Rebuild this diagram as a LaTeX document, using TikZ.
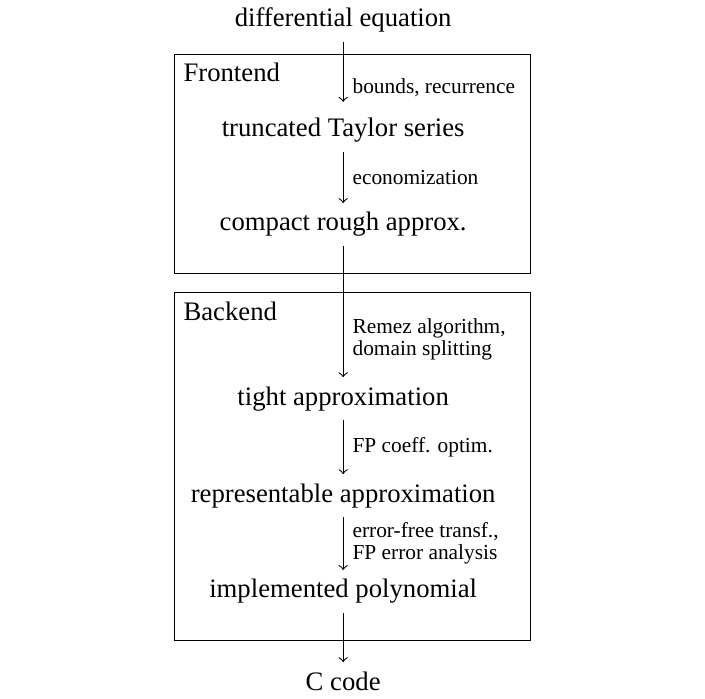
\documentclass[tikz,border=0pt]{standalone}
\usepackage{fontspec}
\setmainfont{Liberation Serif}

\begin{document}
\begin{tikzpicture}[
    x=1pt, y=1pt,
    stage/.style={anchor=base},
    group/.style={draw, anchor=north west, minimum width=133.3pt, inner sep=0pt},
    grouptitle/.style={anchor=north west},
    note/.style={anchor=west, align=left, font=\fontsize{8}{8.2}\selectfont},
    arrow/.style={->}
]
\useasboundingbox (0,0) rectangle (264.0,261.4);
\node[group, minimum height=82pt] (front) at (65.2,241.2) {};
\node[group, minimum height=130.3pt] (back) at (65.2,152.0) {};
\node[grouptitle] (fronttitle) at (front.north west) {Frontend};
\node[grouptitle] (backtitle) at (back.north west) {Backend};
\node[stage] (diffeq) at (128.5,251.3) {differential equation};
\node[stage] (taylor) at (128.5,210.1) {truncated Taylor series};
\node[stage] (rough) at (128.5,174.9) {compact rough approx.};
\node[stage] (tight) at (128.5,109.7) {tight approximation};
\node[stage] (repr) at (128.5,73.4) {representable approximation};
\node[stage] (impl) at (128.5,37.5) {implemented polynomial};
\node[stage] (ccode) at (128.5,3.0) {C code};
\draw[arrow, shorten >=2.7pt] (diffeq) -- (taylor) node[note, pos=0.68] {bounds, recurrence};
\draw[arrow] (taylor) -- (rough) node[note, midway] {economization};
\draw[arrow] (rough) -- (tight) node[note, pos=0.71] {Remez algorithm,\\domain splitting};
\draw[arrow] (tight) -- (repr) node[note, midway] {FP coeff. optim.};
\draw[arrow] (repr) -- (impl) node[note, midway] {error-free transf.,\\FP error analysis};
\draw[arrow] (impl) -- (ccode);
\end{tikzpicture}
\end{document}
